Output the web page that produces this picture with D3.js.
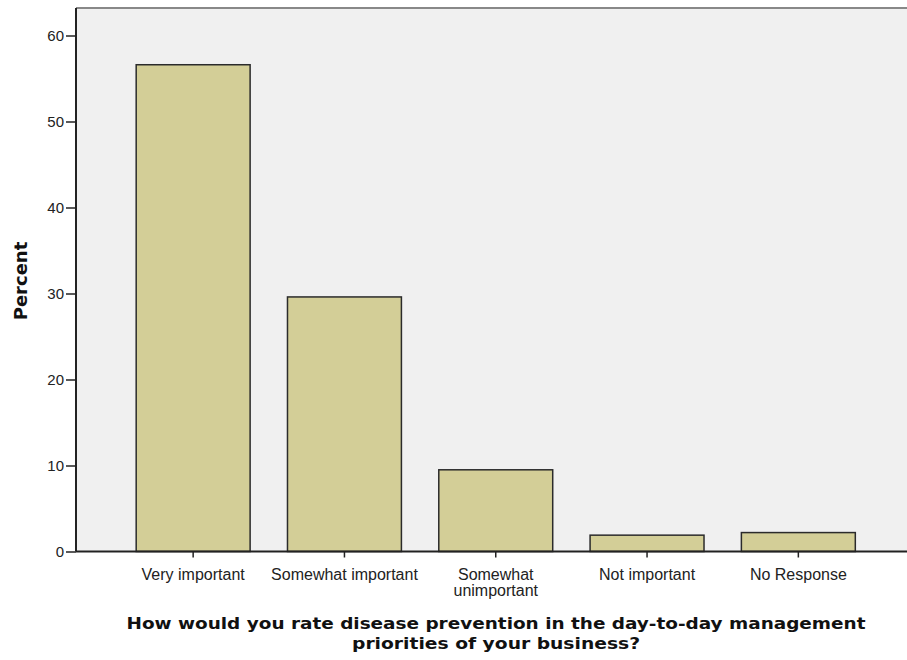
<!DOCTYPE html>
<html><head><meta charset="utf-8">
<script src="https://cdn.jsdelivr.net/npm/d3@7"></script>
<style>body{margin:0;background:#fff}svg{display:block}</style>
</head><body><svg id="c" width="907" height="660"></svg>
<script>
const categories = ["Very important", "Somewhat important", "Somewhat|unimportant", "Not important", "No Response"];
const percents = [56.6, 29.6, 9.5, 1.9, 2.2];
const yTicks = [0, 10, 20, 30, 40, 50, 60];
const yLabel = "Percent";
const xTitle = ["How would you rate disease prevention in the day-to-day management", "priorities of your business?"];

const svg = d3.select("#c");
const L = 76, R = 907, T = 8, B = 551.5;
svg.append("rect").attr("x", L).attr("y", T).attr("width", R - L).attr("height", B - T).attr("fill", "#f0f0f0");
svg.append("line").attr("x1", L).attr("x2", R).attr("y1", T).attr("y2", T).attr("stroke", "#888").attr("stroke-width", 2);

const y = d3.scaleLinear().domain([0, 60]).range([B, 35.5]);
const x = d3.scaleBand().domain(categories).range([117.5, 874]).paddingInner(0.247).paddingOuter(0.1235);

svg.selectAll("rect.bar").data(categories).join("rect").attr("class", "bar")
  .attr("x", d => x(d)).attr("width", x.bandwidth())
  .attr("y", (d, i) => y(percents[i])).attr("height", (d, i) => B - y(percents[i]))
  .attr("fill", "#d3ce97").attr("stroke", "#2b2b2b").attr("stroke-width", 1.5);

const yAxis = svg.append("g").attr("transform", `translate(${L},0)`)
  .call(d3.axisLeft(y).tickValues(yTicks).tickSize(10).tickSizeOuter(0).tickPadding(2));
yAxis.select(".domain").attr("stroke", "#222").attr("stroke-width", 2).attr("d", `M0,${T}V${B}`);
yAxis.selectAll(".tick line").attr("stroke", "#222").attr("stroke-width", 1.5);
yAxis.selectAll(".tick text").attr("font-family", "Liberation Sans, Arial, sans-serif").attr("font-size", 15).attr("fill", "#222");

const xAxis = svg.append("g").attr("transform", `translate(0,${B})`)
  .call(d3.axisBottom(x).tickSize(6).tickSizeOuter(0).tickFormat(""));
xAxis.select(".domain").attr("stroke", "#222").attr("stroke-width", 2).attr("d", `M${L},0H${R}`);
xAxis.selectAll(".tick line").attr("stroke", "#222").attr("stroke-width", 1.5);
xAxis.selectAll(".tick").each(function(d) {
  const lines = d.split("|");
  const t = d3.select(this).append("text").attr("fill", "#222")
    .attr("font-family", "Liberation Sans, Arial, sans-serif").attr("font-size", 16)
    .attr("text-anchor", "middle");
  lines.forEach((s, i) => t.append("tspan").attr("x", 0).attr("y", 28 + i * 16).text(s));
});

svg.append("text").attr("transform", "translate(27,281) rotate(-90)")
  .attr("text-anchor", "middle").attr("font-family", "DejaVu Sans, sans-serif")
  .attr("font-weight", "bold").attr("font-size", 18).attr("fill", "#111").text(yLabel);

const titleW = [739, 288];
xTitle.forEach((s, i) => svg.append("text").attr("x", 496).attr("y", 629 + i * 19.5)
  .attr("text-anchor", "middle").attr("font-family", "DejaVu Sans Condensed, DejaVu Sans, sans-serif")
  .attr("font-weight", "bold").attr("font-size", 16.5).attr("fill", "#111")
  .attr("textLength", titleW[i]).attr("lengthAdjust", "spacingAndGlyphs").text(s));
</script></body></html>
